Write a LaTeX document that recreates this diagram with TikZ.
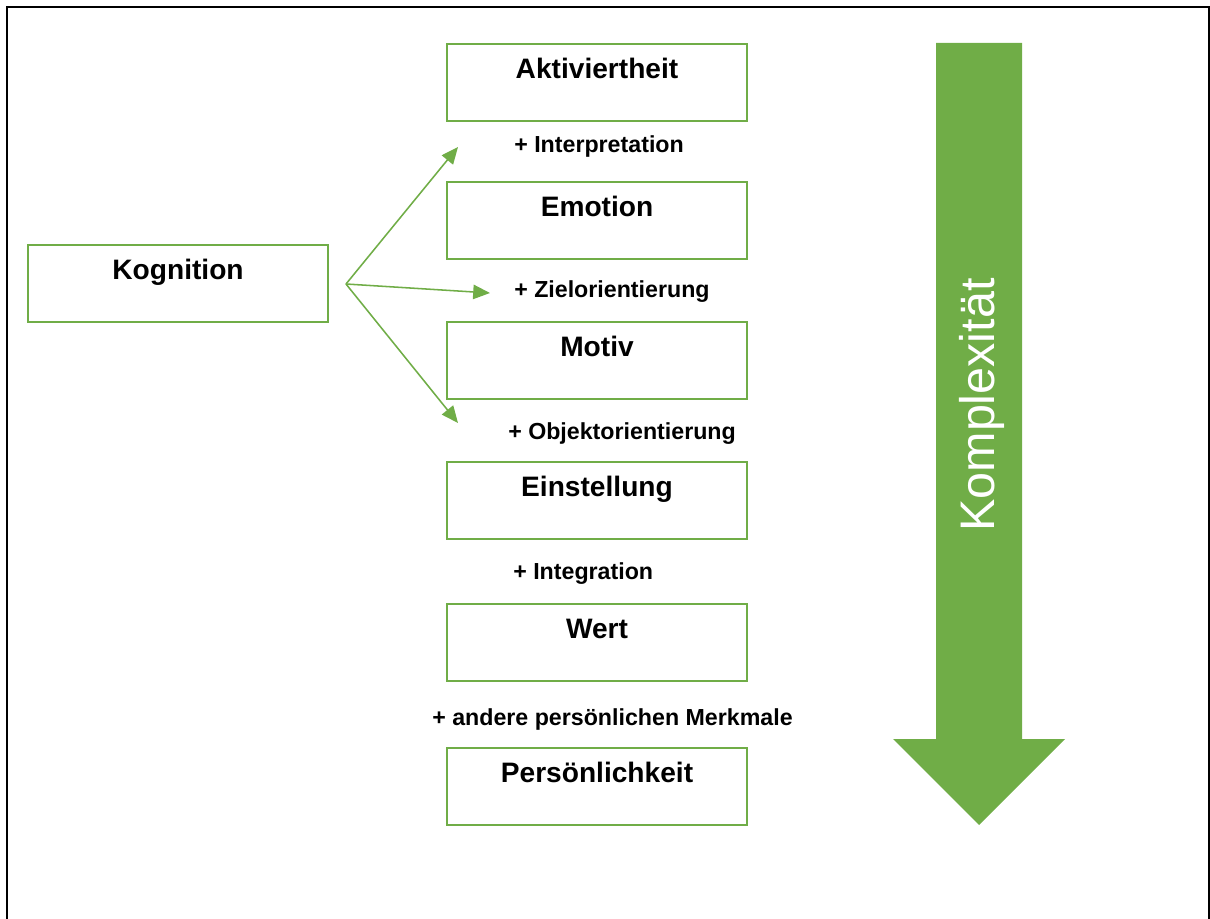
\documentclass[tikz,border=0pt]{standalone}
\usepackage{fontspec}
\setmainfont{Liberation Sans}
\usepackage{xcolor}
\usetikzlibrary{
  arrows.meta,
  positioning
}
\definecolor{kgreen}{HTML}{70AD47}
\tikzset{
  stagebox/.style={
    draw=kgreen,
    line width=1.2pt,
    minimum width=7.5cm,
    inner sep=0pt,
    text height=0.87cm,
    text depth=1.055cm,
    font=\fontsize{20}{24}\selectfont\bfseries,
  },
  addlbl/.style={
    anchor=base west,
    inner sep=0pt,
    font=\fontsize{16.5}{19}\selectfont\bfseries,
  },
  arr/.style={
    -{Triangle[length=4.2mm,width=3.6mm]},
    line width=1.1pt,
    draw=kgreen,
  },
  bigarrow/.style={
    fill=kgreen,
  },
}

\begin{document}
\begin{tikzpicture}[
  x=0.025cm, y=-0.025cm,
]
  \useasboundingbox (0,0) rectangle (1210,919);

  % Frame (open at the bottom)
  \draw[line width=0.05cm] (7,919) -- (7,7) -- (1209,7) -- (1209,919);

  % Left — source box
  \node[stagebox] (kog) at (178,283.5) {Kognition};

  % Column — stages, top to bottom
  \node[stagebox] (akt)  at (597,82.5)  {Aktiviertheit};
  \node[stagebox] (emo)  at (597,220.5) {Emotion};
  \node[stagebox] (mot)  at (597,360.5) {Motiv};
  \node[stagebox] (ein)  at (597,500.5) {Einstellung};
  \node[stagebox] (wert) at (597,642.5) {Wert};
  \node[stagebox] (pers) at (597,786.5) {Persönlichkeit};

  % Additions between the stages
  \node[addlbl] (add1) at (514,153) {+ Interpretation};
  \node[addlbl] (add2) at (514,297) {+ Zielorientierung};
  \node[addlbl] (add3) at (508,439) {+ Objektorientierung};
  \node[addlbl] (add4) at (513,579) {+ Integration};
  \node[addlbl] (add5) at (432,725) {+ andere persönlichen Merkmale};

  % Fan of arrows out of Kognition
  \coordinate (fork) at (346,284);
  \coordinate (tip1) at (458,147);
  \coordinate (tip2) at (490,293);
  \coordinate (tip3) at (458,423);
  \draw[arr] (fork) -- (tip1);
  \draw[arr] (fork) -- (tip2);
  \draw[arr] (fork) -- (tip3);

  % Right — complexity arrow
  \fill[bigarrow] (936,43) -- (1022,43) -- (1022,739) -- (1065,739)
    -- (979,825) -- (893,739) -- (936,739) -- cycle;
  \node[rotate=90, anchor=base, inner sep=0pt, text=white,
    font=\fontsize{34.5}{41}\selectfont] (kompl) at (994,405) {Komplexität};
\end{tikzpicture}
\end{document}
